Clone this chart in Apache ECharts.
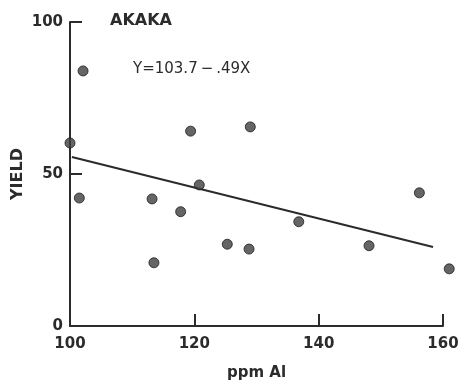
<!DOCTYPE html>
<html>
<head>
<meta charset="utf-8">
<script src="https://cdn.jsdelivr.net/npm/echarts@6/dist/echarts.min.js"></script>
<style>
  html, body { margin: 0; padding: 0; background: #fff; }
  #chart { width: 462px; height: 381px; }
</style>
</head>
<body>
<div id="chart"></div>
<script>
// ppm Al vs yield, Akaka soil
const alPpm = [102.1, 100, 101.5, 119.4, 120.8, 113.2, 117.8, 113.5, 129.0, 125.3, 128.8, 136.8, 148.1, 156.2, 161.0];
const yieldVals = [83.9, 60.2, 42.1, 64.1, 46.4, 41.8, 37.6, 20.8, 65.5, 26.9, 25.3, 34.3, 26.4, 43.8, 18.8];
// fitted line endpoints (Y = 103.7 - .49X)
const fitX = [100.3, 158.4];
const fitY = [55.6, 26.0];
const xTicks = [100, 120, 140, 160];
const yTicks = [0, 50, 100];

const font = 'DejaVu Sans';
const ink = '#2b2b2b';

const chart = echarts.init(document.getElementById('chart'));

chart.setOption({
    animation: false,
    backgroundColor: '#ffffff',
    textStyle: {fontFamily: font, color: ink},
    // v6 shrinks the grid to fit labels unless told not to
    grid: {left: 70, right: 19, top: 22, bottom: 55, outerBoundsMode: 'none'},
    graphic: [
        {
            type: 'text', left: 110, top: 13,
            style: {text: 'AKAKA', font: 'bold 16px ' + font, fill: ink}
        },
        {
            type: 'text', left: 133, top: 62,
            style: {text: 'Y=103.7\u2009\u2212\u2009.49X', font: '15px ' + font, fill: ink}
        }
    ],
    xAxis: {
        type: 'value',
        min: xTicks[0],
        max: xTicks[xTicks.length - 1],
        interval: 20,
        name: 'ppm Al',
        nameLocation: 'middle',
        nameGap: 40,
        nameTextStyle: {fontFamily: font, fontWeight: 'bold', fontSize: 15, color: ink},
        axisLine: {lineStyle: {color: ink, width: 2}},
        axisTick: {inside: true, length: 12, lineStyle: {color: ink, width: 2}},
        axisLabel: {margin: 11, fontSize: 15, fontWeight: 'bold', color: ink, fontFamily: font},
        splitLine: {show: false}
    },
    yAxis: {
        type: 'value',
        min: yTicks[0],
        max: yTicks[yTicks.length - 1],
        interval: 50,
        name: 'YIELD',
        nameLocation: 'middle',
        nameGap: 44,
        nameMoveOverlap: false,
        nameRotate: 90,
        nameTextStyle: {fontFamily: font, fontWeight: 'bold', fontSize: 16, color: ink},
        axisLine: {show: true, lineStyle: {color: ink, width: 2}},
        axisTick: {show: true, inside: true, length: 12, lineStyle: {color: ink, width: 2}},
        axisLabel: {margin: 7, fontSize: 15, fontWeight: 'bold', color: ink, fontFamily: font},
        splitLine: {show: false}
    },
    series: [
        {
            type: 'line',
            data: fitX.map((x, i) => [x, fitY[i]]),
            symbol: 'none',
            lineStyle: {color: ink, width: 2},
            z: 2
        },
        {
            type: 'scatter',
            clip: false,
            data: alPpm.map((x, i) => [x, yieldVals[i]]),
            symbol: 'circle',
            symbolSize: 10,
            itemStyle: {color: '#3f3f3f', borderColor: '#1e1e1e', borderWidth: 1},
            z: 3
        }
    ]
});
</script>
</body>
</html>
